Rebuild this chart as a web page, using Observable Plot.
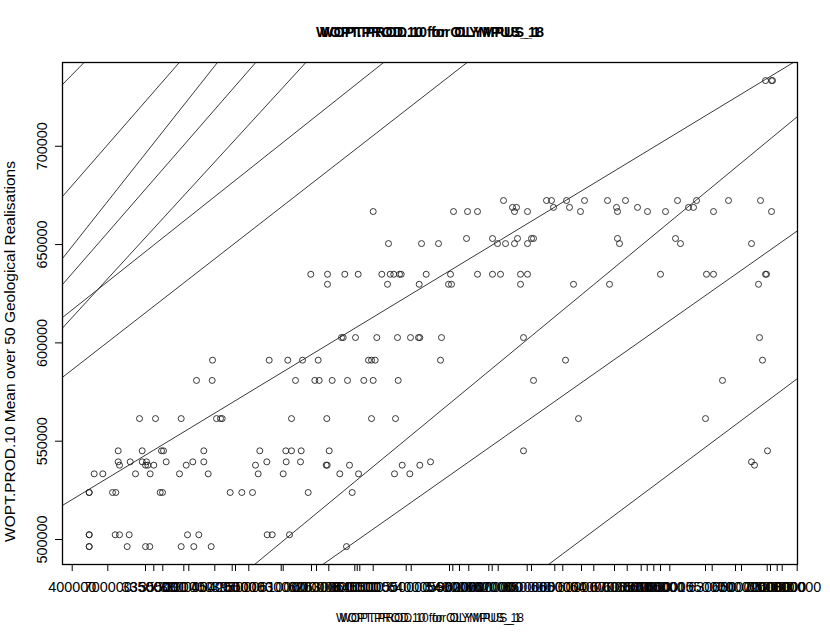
<!DOCTYPE html>
<html><head><meta charset="utf-8">
<script src="https://cdn.jsdelivr.net/npm/d3@7"></script>
<script src="https://cdn.jsdelivr.net/npm/@observablehq/plot@0.6"></script>
<style>body{margin:0;background:#fff} svg{display:block}</style>
</head><body><div id="chart"></div>
<script>
// Overprinted titles (several plots drawn on one device)
const titleTexts = ["WOPT.PROD.10 for OLYMPUS_1", "WOPT.PROD.10 for OLYMPUS_18"];
const xLabelTexts = ["WOPT.PROD.10 for OLYMPUS_1", "WOPT.PROD.10 for OLYMPUS_18"];
const yLabelText = "WOPT.PROD.10 Mean over 50 Geological Realisations";

const yTicks = [500000, 550000, 600000, 650000, 700000];

const xTickValues = [399850, 417650, 436500, 440650, 445150, 455650, 458150, 471150, 479850, 481500,
  488150, 504350, 505350, 519500, 522000, 528150, 541150, 542350, 543650, 550350, 566850, 569350,
  588500, 590150, 593500, 598150, 608150, 609850, 612850, 627350, 629500, 641150, 645150, 654500,
  660650, 671000, 677350, 684350, 687350, 690650, 694000, 698650, 716500, 719850, 731500, 734500,
  747350, 749000, 752350, 754850, 762350];
const xTickLabels = ["400000", "700000", "335000", "350000", "355000", "380000", "390000", "450000", "425000", "395000",
  "650000", "630000", "610000", "620000", "600000", "630000", "600000", "640000", "610000", "550000", "550000", "640000",
  "540000", "590000", "600000", "620000", "600000", "610000", "620000", "650000", "600000", "660000", "650000", "600000",
  "640000", "670000", "600000", "650000", "600000", "610000", "600000", "650000", "1550000", "630000", "650000", "700000",
  "720000", "650000", "1000000", "600000", "800000"];

// Points grouped by their (discrete) mean level
const yLevels = [733400, 672400, 668900, 666800, 653100, 650500, 634900, 629800, 602700, 591200,
  580900, 561500, 545100, 539500, 537800, 533400, 523900, 502400, 496400];
const xByLevel = [
  [746500, 749500, 750000],
  [615500, 637000, 639500, 647000, 656000, 667500, 676500, 702500, 712000, 728000, 744000],
  [620000, 622000, 640500, 648500, 672000, 682500, 708000, 710500],
  [550350, 590500, 597500, 602500, 621000, 627500, 654000, 672500, 687500, 696500, 720500, 749500],
  [597000, 610000, 622500, 629500, 630500, 672500, 701500],
  [558000, 574500, 583000, 612500, 616500, 621000, 627500, 673500, 704000, 739500],
  [519150, 527500, 536150, 542850, 554650, 558850, 560650, 563500, 564350, 576850,
   589000, 602500, 610000, 614000, 624000, 627500, 694000, 717000, 720500, 746500, 747000],
  [527500, 557500, 573350, 588000, 589500, 624000, 650500, 668500, 743000],
  [534500, 535350, 541500, 552150, 562500, 569000, 573000, 573650, 584500, 625500, 743500],
  [470000, 498350, 507650, 515000, 522850, 548000, 549500, 551350, 584000, 646500, 745000],
  [462000, 469850, 511500, 521150, 523350, 529850, 537500, 545650, 550350, 562850, 630500, 725000],
  [433500, 441500, 454350, 472000, 474000, 474850, 509500, 527150, 549500, 561500, 653000, 716500],
  [422850, 434850, 444500, 445500, 465650, 493650, 506650, 509500, 514350, 528350, 625500, 747500],
  [422850, 428850, 434850, 437000, 446850, 460150, 465650, 497150, 506850, 514000, 579000, 739500],
  [423500, 436500, 437650, 440650, 456850, 491500, 526850, 527350, 538500, 564850, 573650, 741000],
  [410850, 415150, 431500, 438850, 453500, 467850, 492850, 505350, 533650, 543000, 561000, 568650],
  [408350, 408350, 420000, 421650, 443850, 445000, 478850, 484650, 490000, 517850, 539850],
  [408350, 408350, 421350, 423500, 428350, 457500, 463150, 497350, 499850, 508500],
  [408350, 408350, 427350, 436500, 438650, 454350, 460650, 469350, 537000]
];

// Reference lines y = a + b * x (one per overlaid plot)
const lineIntercepts = [321600, 213603, 134631, 168017, 169198, 293867, 269892, 273865, 75238, 111749, 2533];
const lineSlopes = [1.0375, 1.1667, 1.2868, 1.1688, 1.1098, 0.8077, 0.7914, 0.6164, 0.8392, 0.7151, 0.7598];

const xDomain = [395000, 762500];
const yDomain = [487285, 742600];

const points = [];
yLevels.forEach((yv, i) => xByLevel[i].forEach(xv => points.push({x: xv, y: yv})));

const lineData = [];
lineIntercepts.forEach((a, i) => {
  const b = lineSlopes[i];
  for (const xv of xDomain) lineData.push({id: i, x: xv, y: a + b * xv});
});

const font = "'Liberation Sans', Arial, Helvetica, sans-serif";

const chart = Plot.plot({
  width: 830,
  height: 642,
  marginLeft: 62,
  marginRight: 33,
  marginTop: 62,
  marginBottom: 78,
  style: {fontFamily: font, fontSize: "12px", color: "black", background: "white"},
  x: {domain: xDomain, label: null},
  y: {domain: yDomain, label: null},
  marks: [
    Plot.line(lineData, {x: "x", y: "y", z: "id", stroke: "#222", strokeWidth: 0.9, clip: true}),
    Plot.dot(points, {x: "x", y: "y", r: 3, stroke: "#222", fill: "none", strokeWidth: 0.9}),
    Plot.frame({stroke: "black", strokeWidth: 1.3}),
    Plot.axisY({ticks: yTicks, tickSize: 7, tickFormat: () => "", label: null, stroke: "black"}),
    Plot.text(yTicks, {y: d => d, text: d => d3.format("d")(d), rotate: -90, frameAnchor: "left", textAnchor: "middle", lineAnchor: "middle", dx: -20, fontSize: 14.4, fill: "black"}),
    Plot.axisX({ticks: xTickValues, tickSize: 7, tickFormat: () => "", label: null, stroke: "black"}),
    Plot.text(xTickValues, {x: d => d, text: (d, i) => xTickLabels[i], frameAnchor: "bottom", textAnchor: "middle", lineAnchor: "middle", dy: 23, fontSize: 14.4, fill: "black"}),
    Plot.text(titleTexts, {text: d => d, frameAnchor: "top", textAnchor: "middle", lineAnchor: "middle", dy: -30, fontSize: 14.4, fontWeight: "bold", fill: "black"}),
    Plot.text(xLabelTexts, {text: d => d, frameAnchor: "bottom", textAnchor: "middle", lineAnchor: "middle", dy: 54, fontSize: 12, fill: "black"}),
    Plot.text([yLabelText], {text: d => d, frameAnchor: "left", textAnchor: "middle", lineAnchor: "middle", dx: -52, dy: 38, rotate: -90, fontSize: 15.5, fill: "black"})
  ]
});
document.getElementById("chart").appendChild(chart);
</script></body></html>
